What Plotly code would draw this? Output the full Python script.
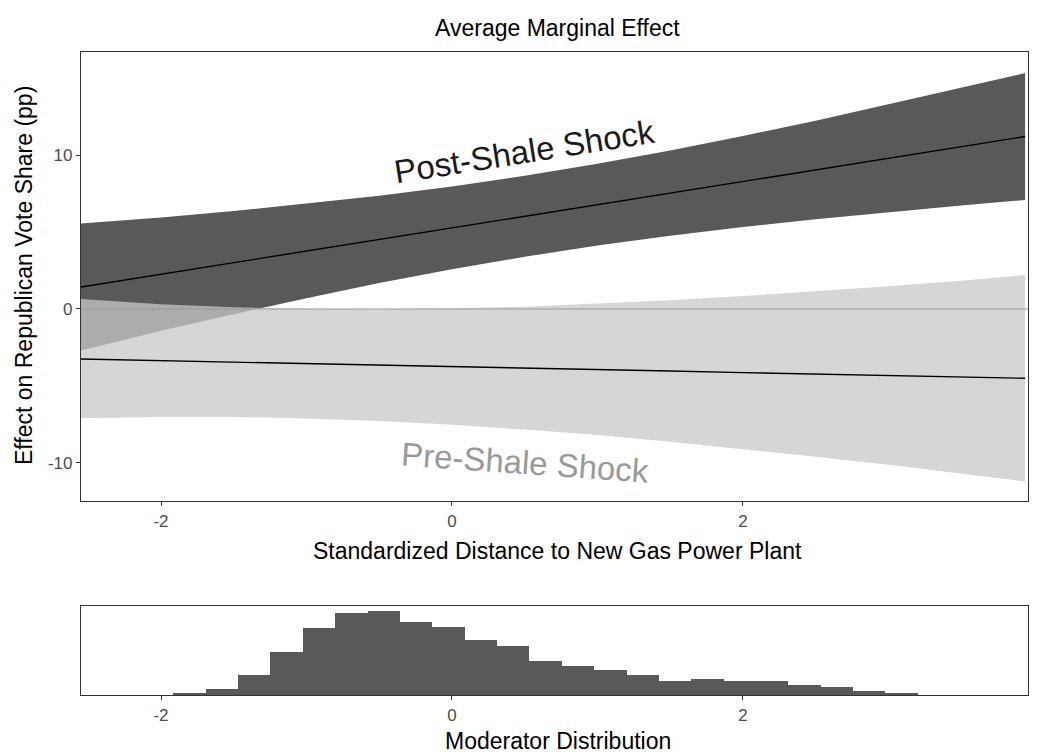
import plotly.graph_objects as go

# moderator grid (standardized distance)
moderator = [-2.55, -2.0, -1.5, -1.0, -0.5, 0.0, 0.5, 1.0, 1.5, 2.0, 2.5, 3.0, 3.5, 3.94]

# post-shale shock marginal effect and 95% band
post_effect = [1.43, 2.26, 3.01, 3.77, 4.52, 5.27, 6.02, 6.78, 7.53, 8.28, 9.03, 9.79, 10.54, 11.20]
post_upper = [5.55, 5.94, 6.36, 6.84, 7.36, 7.96, 8.65, 9.44, 10.30, 11.23, 12.23, 13.29, 14.36, 15.32]
post_lower = [-2.69, -1.42, -0.34, 0.70, 1.68, 2.58, 3.39, 4.12, 4.76, 5.33, 5.83, 6.29, 6.72, 7.08]

# pre-shale shock marginal effect and 95% band
pre_effect = [-3.25, -3.35, -3.45, -3.55, -3.64, -3.74, -3.84, -3.93, -4.03, -4.13, -4.22, -4.32, -4.42, -4.50]
pre_upper = [0.65, 0.31, 0.11, 0.01, -0.01, 0.04, 0.15, 0.34, 0.57, 0.84, 1.15, 1.48, 1.83, 2.20]
pre_lower = [-7.10, -7.01, -7.01, -7.11, -7.27, -7.52, -7.83, -8.19, -8.63, -9.10, -9.59, -10.12, -10.67, -11.20]

# moderator histogram
bin_start = -1.915
bin_width = 0.2225
bin_counts = [2, 6, 20, 43, 67, 82, 84, 73, 68, 55, 49, 34, 29, 25, 20, 14, 16, 14, 14, 10, 8, 4, 2]
bin_centers = [bin_start + bin_width * (i + 0.5) for i in range(len(bin_counts))]

x_ticks = [-2, 0, 2, 4]
x_labels = ["-2", "0", "2", "4"]
y_ticks = [-10, 0, 10]
y_labels = ["-10", "0", "10"]

FONT = "Liberation Sans, Arial, Helvetica, sans-serif"
DARK = "#595959"
LIGHT = "rgba(200,200,200,0.75)"
AXIS = "#333333"
TICK_FONT = dict(family=FONT, size=17, color="#4D4D4D")

# page renders with an 8px body margin, so layout is placed 8px up/left
W, H, OFF = 1037, 752, 8
X_RANGE = [-2.55, 3.96]  # right edge kept inside the visible window


def px_x(p):
    return (p - OFF) / W


def px_y(p):
    return 1 - (p - OFF) / H


fig = go.Figure()

# ribbons
fig.add_trace(go.Scatter(x=moderator, y=post_lower, mode="lines", line=dict(width=0),
                         hoverinfo="skip", showlegend=False))
fig.add_trace(go.Scatter(x=moderator, y=post_upper, mode="lines", line=dict(width=0),
                         fill="tonexty", fillcolor=DARK, hoverinfo="skip", showlegend=False))
fig.add_trace(go.Scatter(x=moderator, y=pre_lower, mode="lines", line=dict(width=0),
                         hoverinfo="skip", showlegend=False))
fig.add_trace(go.Scatter(x=moderator, y=pre_upper, mode="lines", line=dict(width=0),
                         fill="tonexty", fillcolor=LIGHT, hoverinfo="skip", showlegend=False))

# point estimates
fig.add_trace(go.Scatter(x=moderator, y=post_effect, mode="lines",
                         line=dict(color="black", width=1.4), showlegend=False))
fig.add_trace(go.Scatter(x=moderator, y=pre_effect, mode="lines",
                         line=dict(color="black", width=1.4), showlegend=False))

# histogram
fig.add_trace(go.Bar(x=bin_centers, y=bin_counts, width=bin_width, marker=dict(color=DARK, line=dict(width=0)),
                     xaxis="x2", yaxis="y2", showlegend=False))

# zero reference line
fig.add_shape(type="line", xref="x domain", yref="y", x0=0, x1=1, y0=0, y1=0,
              line=dict(color="#9A9A9A", width=1.2), layer="above")

axis_common = dict(showgrid=False, zeroline=False, showline=True, linecolor=AXIS, linewidth=1.2,
                   mirror=True, ticks="outside", ticklen=4, tickcolor=AXIS, tickwidth=1.2,
                   tickfont=TICK_FONT, automargin=False)

x_dom = [px_x(81), px_x(1028)]
fig.update_layout(
    width=W, height=H,
    margin=dict(l=0, r=0, t=0, b=0),
    paper_bgcolor="white", plot_bgcolor="white",
    bargap=0,
    xaxis=dict(domain=x_dom, range=X_RANGE, tickvals=x_ticks, ticktext=x_labels,
               anchor="y", **axis_common),
    yaxis=dict(domain=[px_y(501), px_y(52)], range=[-12.47, 16.69], tickvals=y_ticks, ticktext=y_labels,
               anchor="x", **axis_common),
    xaxis2=dict(domain=x_dom, range=X_RANGE, tickvals=x_ticks, ticktext=x_labels,
                anchor="y2", **axis_common),
    yaxis2=dict(domain=[px_y(695), px_y(606)], range=[0, 89], anchor="x2", showgrid=False, zeroline=False,
                showline=True, linecolor=AXIS, linewidth=1.2, mirror=True, ticks="",
                showticklabels=False, automargin=False),
)

title_font = dict(family=FONT, size=23, color="black")
cx = (px_x(81) + px_x(1034)) / 2
annotations = [
    dict(text="Average Marginal Effect", x=cx, y=px_y(28), xref="paper", yref="paper",
         showarrow=False, font=title_font, xanchor="center", yanchor="middle"),
    dict(text="Standardized Distance to New Gas Power Plant", x=cx, y=px_y(551),
         xref="paper", yref="paper", showarrow=False, font=title_font, xanchor="center", yanchor="middle"),
    dict(text="Moderator Distribution", x=cx, y=px_y(741), xref="paper", yref="paper",
         showarrow=False, font=title_font, xanchor="center", yanchor="middle"),
    dict(text="Effect on Republican Vote Share (pp)", x=px_x(24), y=px_y(276), xref="paper",
         yref="paper", showarrow=False, font=title_font, textangle=-90, xanchor="center", yanchor="middle"),
    dict(text="Post-Shale Shock", x=0.5, y=10.2, xref="x", yref="y", showarrow=False, textangle=-9,
         font=dict(family=FONT, size=33, color="#1A1A1A"), xanchor="center", yanchor="middle"),
    dict(text="Pre-Shale Shock", x=0.5, y=-9.95, xref="x", yref="y", showarrow=False, textangle=4,
         font=dict(family=FONT, size=33, color="#999999"), xanchor="center", yanchor="middle"),
]
fig.update_layout(annotations=annotations)

fig.write_html("out.html")
